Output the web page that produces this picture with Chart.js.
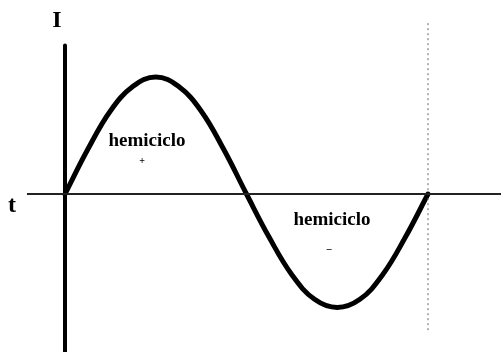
<!DOCTYPE html>
<html>
<head>
<meta charset="utf-8">
<script src="https://cdn.jsdelivr.net/npm/chart.js@4/dist/chart.umd.min.js"></script>
<style>
html,body{margin:0;padding:0;background:#fff;}
#wrap{position:relative;width:501px;height:352px;}
</style>
</head>
<body>
<div id="wrap"><canvas id="c"></canvas></div>
<script>
// Phase (degrees) and current (relative units)
const phase   = [0, 22.5, 45, 67.5, 90, 112.5, 135, 157.5, 180, 202.5, 225, 247.5, 270, 292.5, 315, 337.5, 360];
const current = [0, 0.38, 0.71, 0.92, 1.0, 0.92, 0.71, 0.38, 0, -0.37, -0.69, -0.90, -0.97, -0.90, -0.69, -0.37, 0];

// Axes and guide line extents (data units)
const timeAxisX    = [-37.7, 432.4];
const currentAxisY = [-1.35, 1.27];
const guideY       = [1.46, -1.19];
const guideX       = 360;

// Texts
const labels = [
  {text: 'I', x: 57, y: 21, font: 'bold 24px "Liberation Serif"'},
  {text: 't', x: 12, y: 206, font: 'bold 24px "Liberation Serif"'},
  {text: 'hemiciclo', x: 147, y: 141, font: 'bold 19px "Liberation Serif"'},
  {text: '+', x: 142, y: 161, font: 'bold 10px "Liberation Serif"'},
  {text: 'hemiciclo', x: 332, y: 220, font: 'bold 19px "Liberation Serif"'},
  {text: '−', x: 329, y: 250, font: 'bold 11px "Liberation Serif"'}
];

const textPlugin = {
  id: 'texts',
  afterDatasetsDraw(chart) {
    const ctx = chart.ctx;
    ctx.save();
    ctx.fillStyle = '#000';
    ctx.textAlign = 'center';
    ctx.textBaseline = 'middle';
    labels.forEach(l => { ctx.font = l.font; ctx.fillText(l.text, l.x, l.y); });
    ctx.restore();
  }
};

new Chart(document.getElementById('c'), {
  type: 'line',
  data: {
    datasets: [
      {
        data: timeAxisX.map(x => ({x, y: 0})),
        borderColor: '#222', borderWidth: 2, pointRadius: 0, clip: false
      },
      {
        data: currentAxisY.map(y => ({x: 0, y})),
        borderColor: '#000', borderWidth: 4, pointRadius: 0, borderCapStyle: 'round', clip: false
      },
      {
        data: guideY.map(y => ({x: guideX, y})),
        borderColor: '#666', borderWidth: 1, borderDash: [2, 3], pointRadius: 0, clip: false
      },
      {
        data: phase.map((p, i) => ({x: p, y: current[i]})),
        borderColor: '#000', borderWidth: 5, pointRadius: 0, tension: 0.4,
        borderCapStyle: 'round', clip: false
      }
    ]
  },
  options: {
    responsive: true,
    maintainAspectRatio: false,
    animation: false,
    events: [],
    layout: {padding: 0},
    plugins: {legend: {display: false}, tooltip: {enabled: false}},
    scales: {
      x: {type: 'linear', min: -64.46, max: 432.4, display: false},
      y: {type: 'linear', min: -1.350, max: 1.658, display: false}
    }
  },
  plugins: [textPlugin]
});
</script>
</body>
</html>
